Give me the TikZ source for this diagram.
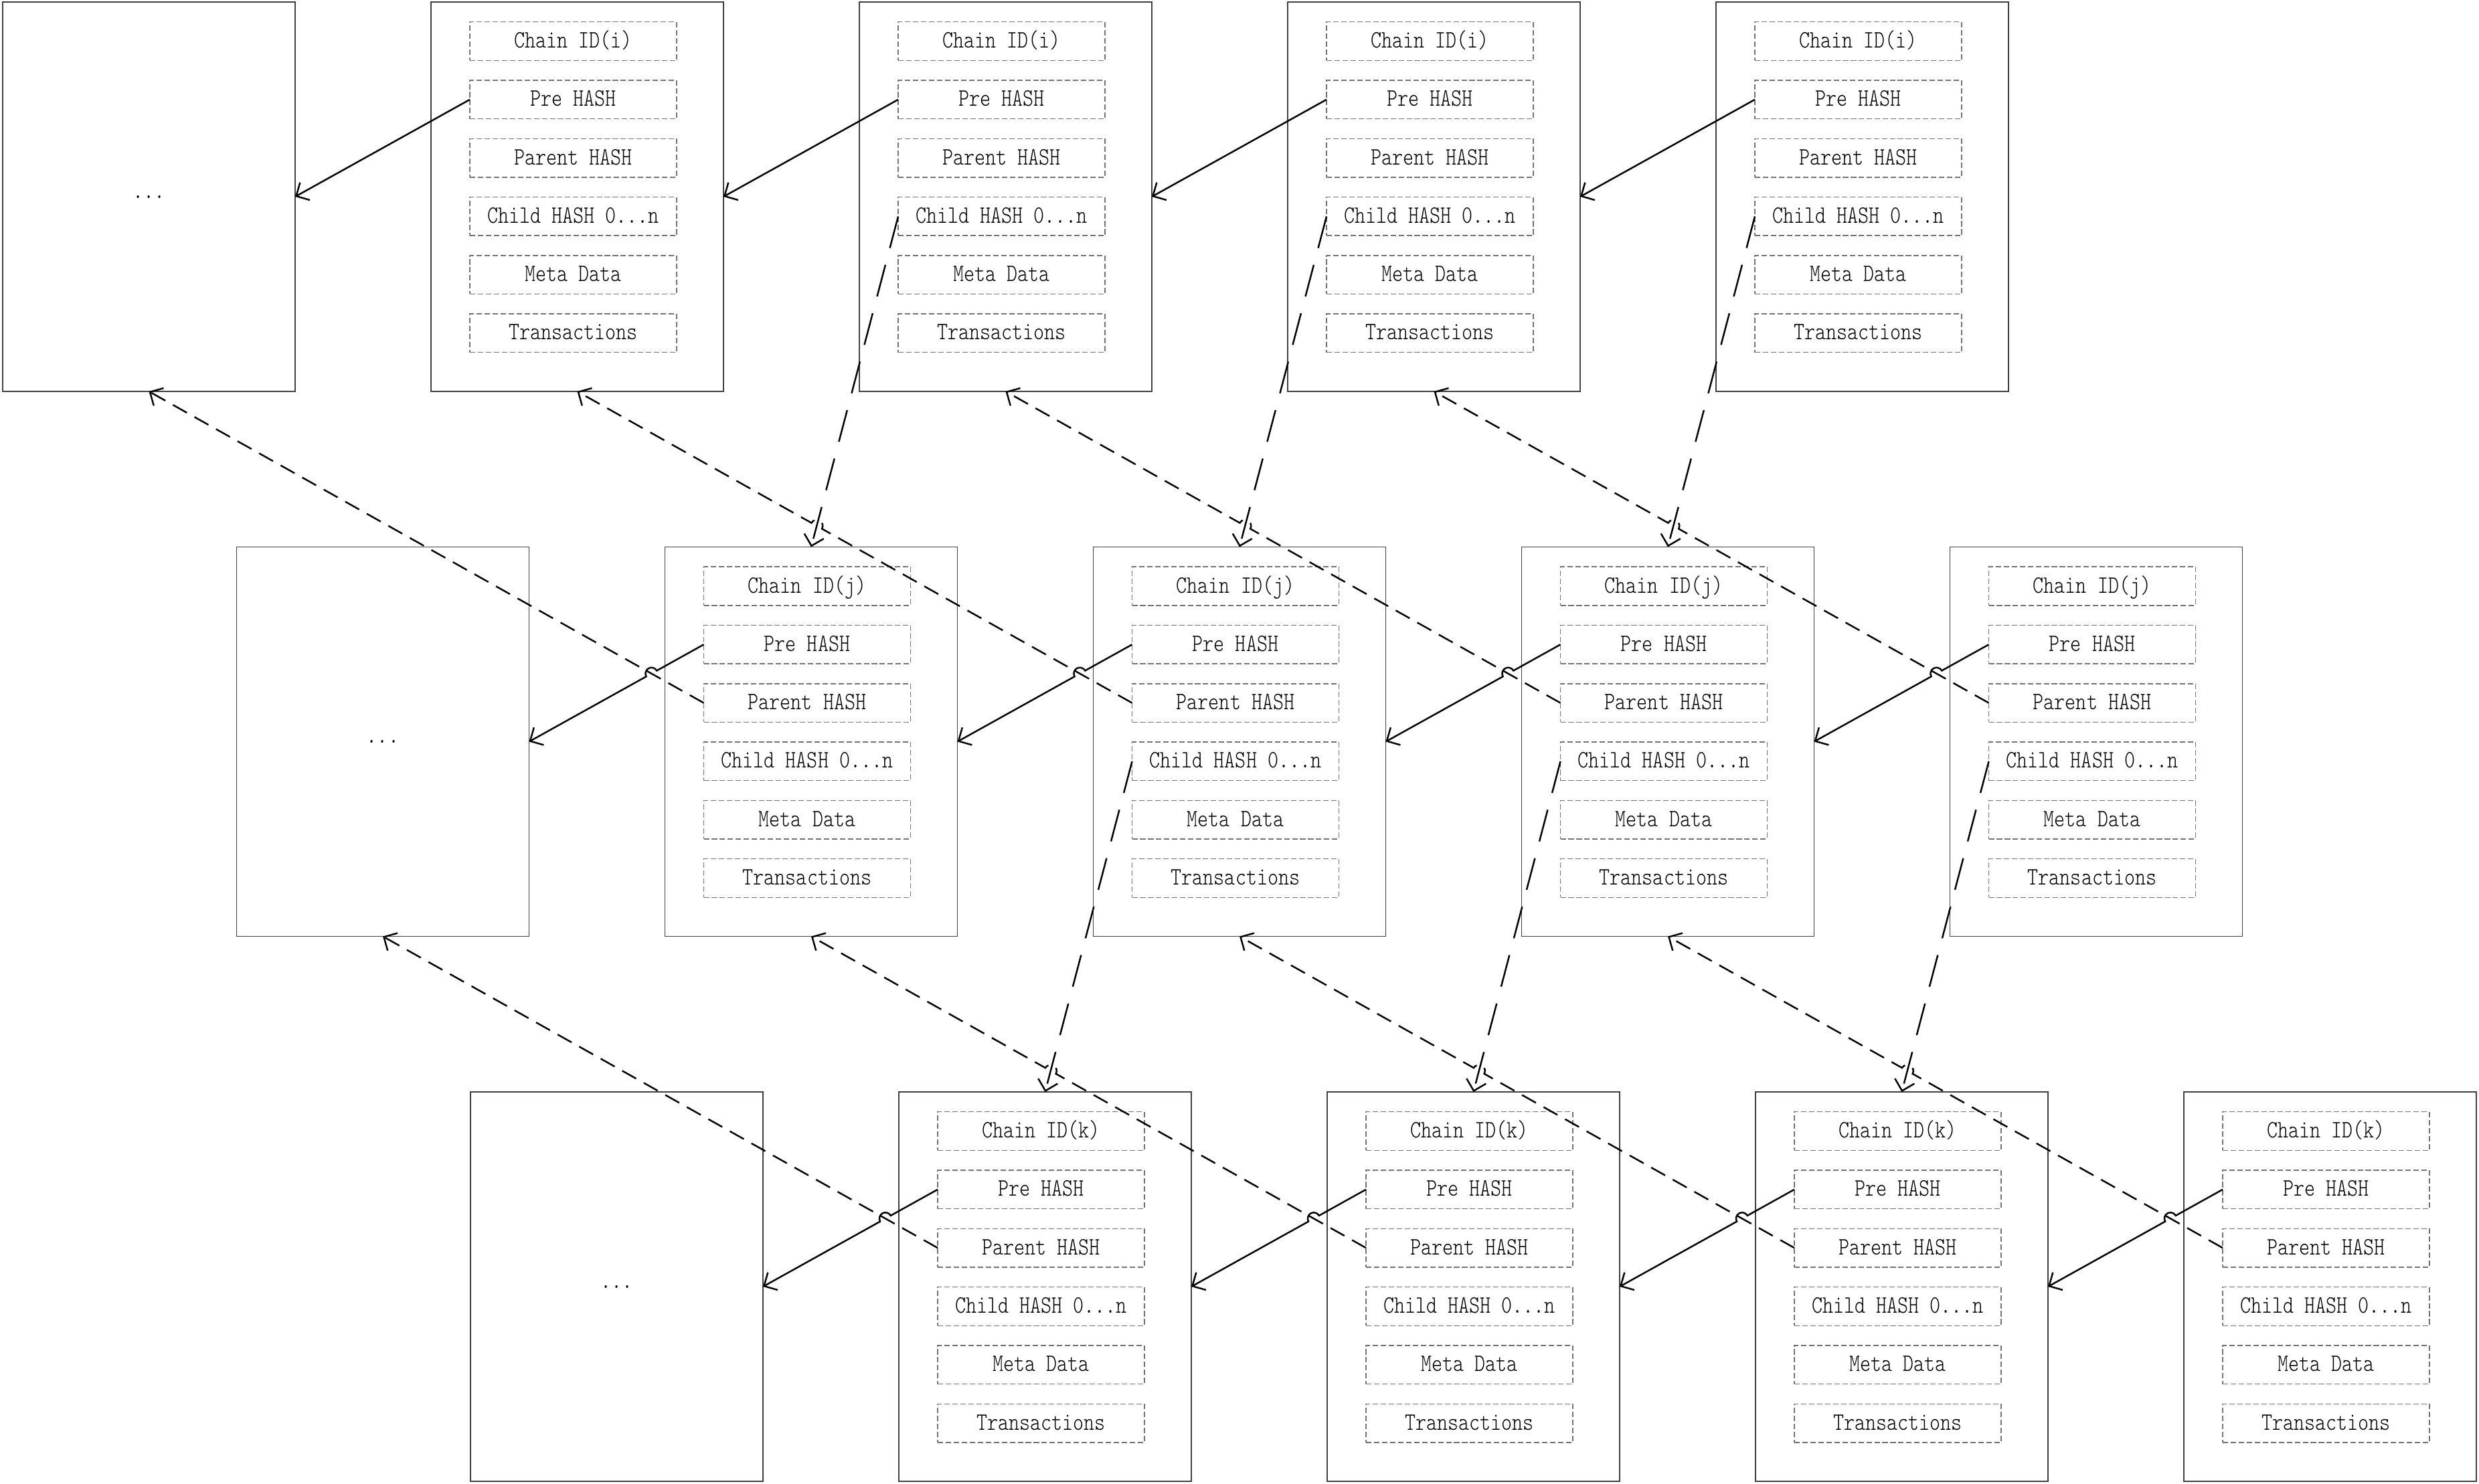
\documentclass[tikz,border=0pt]{standalone}
\usepackage{fontspec}
\usetikzlibrary{calc,positioning,arrows.meta,intersections}
\newfontfamily\blockfont{lmmonolt10-regular.otf}[FakeStretch=0.82]
\newcommand{\hopr}{0.09cm}

\begin{document}
\begin{tikzpicture}[node distance=0.297cm]
	\tikzstyle{blockbox}=[draw=black!75, line width=0.4pt, minimum width=4.37cm, minimum height=5.82cm, inner sep=0pt, outer sep=0pt, anchor=north west, font=\blockfont\fontsize{10.6}{12}\selectfont]
	\tikzstyle{field}=[draw=black!55, line width=0.4pt, dash pattern=on 2.3pt off 1.1pt, minimum width=3.09cm, minimum height=0.576cm, inner sep=0pt, outer sep=0pt, text height=0.2cm, text depth=0pt, font=\blockfont\fontsize{10.6}{12}\selectfont]
	\tikzstyle{preline}=[-{Straight Barb[length=1.5mm,width=3mm]}, line width=0.7pt]
	\tikzstyle{parentline}=[preline, dash pattern=on 6.8pt off 3.7pt]
	\tikzstyle{childline}=[preline, dash pattern=on 13.9pt off 7.4pt]

	\useasboundingbox (0,0) rectangle (37.04,-22.18);

	% blocks of the three chains
	\foreach \r/\id in {1/i,2/j,3/k} {
		\foreach \c in {0,...,4} {
			\ifnum\c=0
				\node (b\r\c) [blockbox] at ({0.04+3.495*(\r-1)+6.4*\c},{-0.03-8.145*(\r-1)}) {...};
			\else
				\node (b\r\c) [blockbox] at ({0.04+3.495*(\r-1)+6.4*\c},{-0.03-8.145*(\r-1)}) {};
				\node (b\r\c-id) [field, below right=0.297cm and 0.58cm of b\r\c.north west] {Chain ID(\id)};
				\node (b\r\c-pre) [field, below=of b\r\c-id] {Pre HASH};
				\node (b\r\c-par) [field, below=of b\r\c-pre] {Parent HASH};
				\node (b\r\c-chd) [field, below=of b\r\c-par] {Child HASH 0...n};
				\node (b\r\c-meta) [field, below=of b\r\c-chd] {Meta Data};
				\node (b\r\c-tx) [field, below=of b\r\c-meta] {Transactions};
			\fi
		}
	}

	% child links
	\foreach \r [evaluate=\r as \rn using int(\r+1)] in {1,2} {
		\foreach \c [evaluate=\c as \cc using int(\c-1)] in {2,3,4}
			\draw[childline] (b\r\c-chd.west) -- (b\rn\cc.north);
	}

	% parent links, hopping over the child links
	\foreach \r [evaluate=\r as \rr using int(\r-1)] in {2,3} {
		\foreach \c [evaluate=\c as \cc using int(\c-1)] in {1,...,4} {
			\ifnum\c=1
				\draw[parentline] (b\r\c-par.west) -- (b\rr\cc.south);
			\else
				\path[name path=par] (b\r\c-par.west) -- (b\rr\cc.south);
				\path[name path=chd] (b\rr\c-chd.west) -- (b\r\cc.north);
				\path[name intersections={of=par and chd, by=hy\r\c}];
				\draw[parentline] let \p1=($(b\r\c-par.west)-(hy\r\c)$), \n1={atan2(\y1,\x1)} in
					(b\r\c-par.west) -- ($(hy\r\c)!\hopr!(b\r\c-par.west)$)
					arc[start angle=\n1, end angle=\n1+180, radius=\hopr] -- (b\rr\cc.south);
			\fi
		}
	}

	% previous-block links, hopping over the parent links
	\foreach \r in {1,2,3} {
		\foreach \c [evaluate=\c as \cc using int(\c-1)] in {1,...,4} {
			\ifnum\r=1
				\draw[preline] (b\r\c-pre.west) -- (b\r\cc.east);
			\else
				\pgfmathtruncatemacro{\rr}{\r-1}
				\path[name path=par] (b\r\c-par.west) -- (b\rr\cc.south);
				\path[name path=pre] (b\r\c-pre.west) -- (b\r\cc.east);
				\path[name intersections={of=par and pre, by=hx\r\c}];
				\draw[preline] let \p1=($(b\r\c-pre.west)-(hx\r\c)$), \n1={atan2(\y1,\x1)} in
					(b\r\c-pre.west) -- ($(hx\r\c)!\hopr!(b\r\c-pre.west)$)
					arc[start angle=\n1, end angle=\n1+180, radius=\hopr] -- (b\r\cc.east);
			\fi
		}
	}
\end{tikzpicture}
\end{document}
